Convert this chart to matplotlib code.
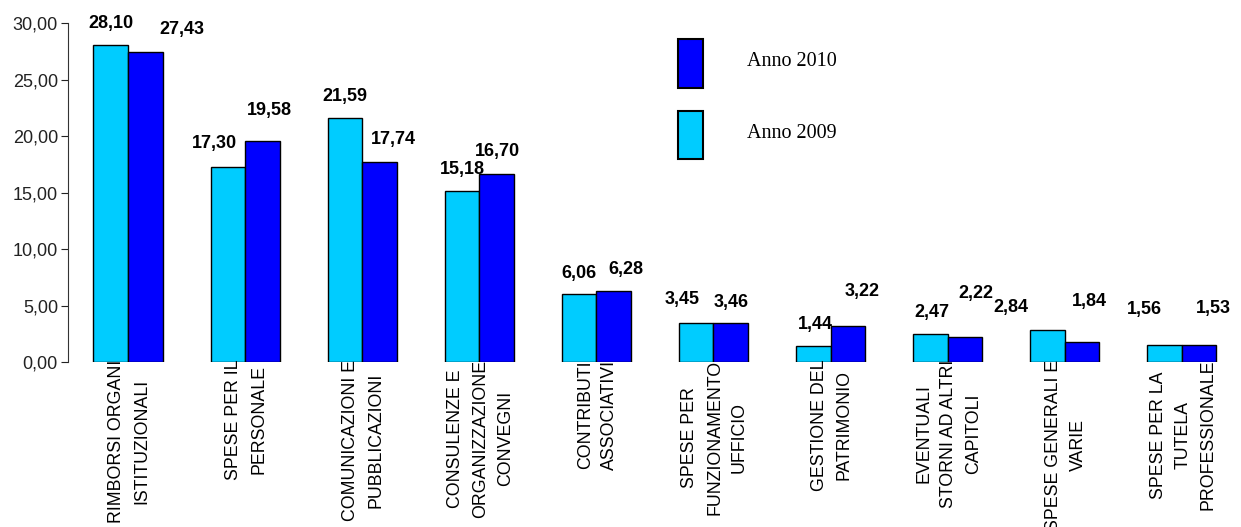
import matplotlib
matplotlib.use('Agg')
import matplotlib.pyplot as plt
import numpy as np
from matplotlib.patches import Rectangle

plt.rcParams['font.family'] = ['Liberation Sans', 'DejaVu Sans']

categories = ['RIMBORSI ORGANI\nISTITUZIONALI',
              'SPESE PER IL\nPERSONALE',
              'COMUNICAZIONI E\nPUBBLICAZIONI',
              'CONSULENZE E\nORGANIZZAZIONE\nCONVEGNI',
              'CONTRIBUTI\nASSOCIATIVI',
              'SPESE PER\nFUNZIONAMENTO\nUFFICIO',
              'GESTIONE DEL\nPATRIMONIO',
              'EVENTUALI\nSTORNI AD ALTRI\nCAPITOLI',
              'SPESE GENERALI E\nVARIE',
              'SPESE PER LA\nTUTELA\nPROFESSIONALE']
anno_2009 = [28.10, 17.30, 21.59, 15.18, 6.06, 3.45, 1.44, 2.47, 2.84, 1.56]
anno_2010 = [27.43, 19.58, 17.74, 16.70, 6.28, 3.46, 3.22, 2.22, 1.84, 1.53]

# label offsets in pixels (dx, dy) from bar top-centre, as placed in the original
off_2009 = [(0, 21), (-13, 23), (0, 22), (0, 21), (0, 20),
            (-14, 24), (2, 22), (1, 22), (-37, 23), (-20, 35)]
off_2010 = [(37, 23), (7, 31), (14, 22), (1, 22), (12, 22),
            (0, 21), (14, 34), (11, 44), (7, 40), (14, 37)]

c09 = '#00CCFF'
c10 = '#0000FF'

W, H = 1241, 527
fig = plt.figure(figsize=(W/100., H/100.), dpi=100)
ax = fig.add_axes([67.7/W, 1-362.3/H, (W-67.7)/W, 338.9/H])

x = np.arange(len(categories))
bw = 0.295
b1 = ax.bar(x-bw/2, anno_2009, bw, color=c09, edgecolor='black', linewidth=1.0)
b2 = ax.bar(x+bw/2, anno_2010, bw, color=c10, edgecolor='black', linewidth=1.0)

def fmt(v):
    return ('%.2f' % v).replace('.', ',')

for bars, vals, offs in [(b1, anno_2009, off_2009), (b2, anno_2010, off_2010)]:
    for b, v, o in zip(bars, vals, offs):
        ax.annotate(fmt(v), (b.get_x()+b.get_width()/2, v), xytext=o,
                    textcoords='offset pixels', ha='center', va='center',
                    fontsize=13, fontweight='bold', annotation_clip=False)

ax.set_xlim(-0.515, 9.505)
ax.set_ylim(0, 30)
ax.set_yticks(np.arange(0, 31, 5))
ax.set_yticklabels([fmt(t) for t in np.arange(0, 31, 5)], fontsize=13)
ax.tick_params(axis='y', length=5, width=0.8, pad=2, colors='#222222')
ax.set_xticks(x+0.01)
ax.set_xticklabels(categories, rotation=90, fontsize=12.8, va='top',
                   ha='center', linespacing=1.6)
ax.tick_params(axis='x', length=0, pad=-2)
for s in ['top', 'right', 'bottom']:
    ax.spines[s].set_visible(False)
ax.spines['left'].set_linewidth(0.8)
ax.spines['left'].set_color('#333333')

# legend drawn by hand, the way the original has it
for (y0, y1), col, txt, ty in [((39.3, 87.7), c10, 'Anno 2010', 61.3),
                               ((111, 159.3), c09, 'Anno 2009', 133)]:
    fig.patches.append(Rectangle((677.7/W, 1-y1/H), 25/W, (y1-y0)/H,
                                 transform=fig.transFigure, facecolor=col,
                                 edgecolor='black', linewidth=1.5))
    fig.text(746.7/W, 1-ty/H, txt, fontsize=14.5, va='center', ha='left',
             family=['Liberation Serif', 'DejaVu Serif'])

fig.savefig('out.png', dpi=100)
